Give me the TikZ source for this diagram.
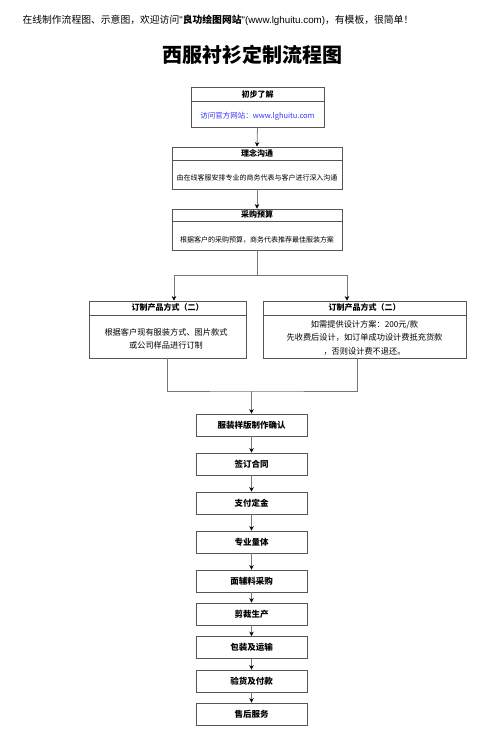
\documentclass[tikz,border=0pt]{standalone}
\usepackage{fontspec}
\setmainfont{Noto Sans CJK SC}
\newfontfamily\latinsans{Liberation Sans}
\usetikzlibrary{arrows.meta,calc}
\definecolor{linkblue}{HTML}{3333FF}
\definecolor{edgec}{HTML}{555555}
\definecolor{connc}{HTML}{777777}
\begin{document}
\begin{tikzpicture}[x=1pt,y=-1pt,
 box/.style={draw=edgec, line width=0.8pt, fill=white, inner sep=0pt},
 hdr/.style={font=\bfseries\fontsize{8}{10}\selectfont},
 bodytxt/.style={font=\fontsize{7}{9}\selectfont, align=center},
 conn/.style={draw=connc, line width=0.8pt},
 arr/.style={conn, -{Stealth[length=4.5pt,width=4.5pt,color=black]}},
 sbox/.style={box, minimum width=111pt, minimum height=22pt, font=\bfseries\fontsize{8.5}{10}\selectfont},
 sep/.style={draw=edgec, line width=0.8pt}
]
\path[use as bounding box] (0,0) rectangle (478,737);

% header texts
\node[anchor=west, font=\fontsize{9.8}{11}\selectfont] (top) at (19,20)
  {在线制作流程图、示意图，欢迎访问{\latinsans "}\textbf{良功绘图网站}{\latinsans "(www.lghuitu.com)}，有模板，很简单！};
\node[font=\bfseries\fontsize{20}{24}\selectfont] (title) at (252,55) {西服衬衫定制流程图};

% box 1
\node[box, minimum width=133pt, minimum height=40pt] (b1) at (257.5,107) {};
\draw[sep] ($(b1.north west)+(0,15)$) -- ($(b1.north east)+(0,15)$);
\node[hdr] (b1h) at ($(b1.north)+(0,7.5)$) {初步了解};
\node[bodytxt, text=linkblue, font=\fontsize{7.5}{9}\selectfont] (b1t) at (257.5,116.5) {访问官方网站：www.lghuitu.com};

% box 2
\node[box, minimum width=170pt, minimum height=42pt] (b2) at (257,168) {};
\draw[sep] ($(b2.north west)+(0,13.5)$) -- ($(b2.north east)+(0,13.5)$);
\node[hdr] (b2h) at ($(b2.north)+(0,6.75)$) {理念沟通};
\node[bodytxt] (b2t) at (257,178) {由在线客服安排专业的商务代表与客户进行深入沟通};

% box 3
\node[box, minimum width=170pt, minimum height=41pt] (b3) at (257,229.5) {};
\draw[sep] ($(b3.north west)+(0,12.5)$) -- ($(b3.north east)+(0,12.5)$);
\node[hdr] (b3h) at ($(b3.north)+(0,6.25)$) {采购预算};
\node[bodytxt] (b3t) at (257,239.5) {根据客户的采购预算，商务代表推荐最佳服装方案};

\draw[arr] (b1.south) -- (b2.north);
\draw[arr] (b2.south) -- (b3.north);

% left / right boxes
\node[box, minimum width=157pt, minimum height=57pt] (lb) at (167.5,329.5) {};
\draw[sep] ($(lb.north west)+(0,14.5)$) -- ($(lb.north east)+(0,14.5)$);
\node[hdr] (lbh) at ($(lb.north)+(0,7.25)$) {订制产品方式（二）};
\node[bodytxt, font=\fontsize{8.2}{13}\selectfont] (lbt) at (166,338.5) {根据客户现有服装方式、图片款式\\或公司样品进行订制};

\node[box, minimum width=203pt, minimum height=57pt] (rb) at (364.5,329.5) {};
\draw[sep] ($(rb.north west)+(0,14.5)$) -- ($(rb.north east)+(0,14.5)$);
\node[hdr] (rbh) at ($(rb.north)+(0,7.25)$) {订制产品方式（二）};
\node[bodytxt, font=\fontsize{8.2}{13.5}\selectfont] (rbt) at (364.5,337.5) {如需提供设计方案：200元/款\\先收费后设计，如订单成功设计费抵充货款\\，否则设计费不退还。};

% fork
\coordinate (j1) at (257,275);
\draw[conn] (b3.south) -- (j1);
\draw[arr] (j1) -| ($(lb.north)+(6.5,0)$);
\draw[arr] (j1) -| ($(rb.north)+(-17.5,0)$);

% simple chain
\node[sbox] (s1) at (251.5,425) {服装样版制作确认};
\node[sbox] (s2) at (251.5,464) {签订合同};
\node[sbox] (s3) at (251.5,503) {支付定金};
\node[sbox] (s4) at (251.5,542) {专业量体};
\node[sbox] (s5) at (251.5,581) {面辅料采购};
\node[sbox] (s6) at (251.5,614) {剪裁生产};
\node[sbox] (s7) at (251.5,647.5) {包装及运输};
\node[sbox] (s8) at (251.5,681) {验货及付款};
\node[sbox] (s9) at (251.5,714) {售后服务};

% merge
\coordinate (j2) at (251.5,391);
\coordinate (m2) at ($(rb.south)+(-7.5,0)$);
\draw[conn] (lb.south) |- (j2) -| (m2);
\draw[arr] (j2) -- (s1.north);

\foreach \a/\b in {s1/s2,s2/s3,s3/s4,s4/s5,s5/s6,s6/s7,s7/s8,s8/s9}
  \draw[arr] (\a.south) -- (\b.north);
\end{tikzpicture}
\end{document}
